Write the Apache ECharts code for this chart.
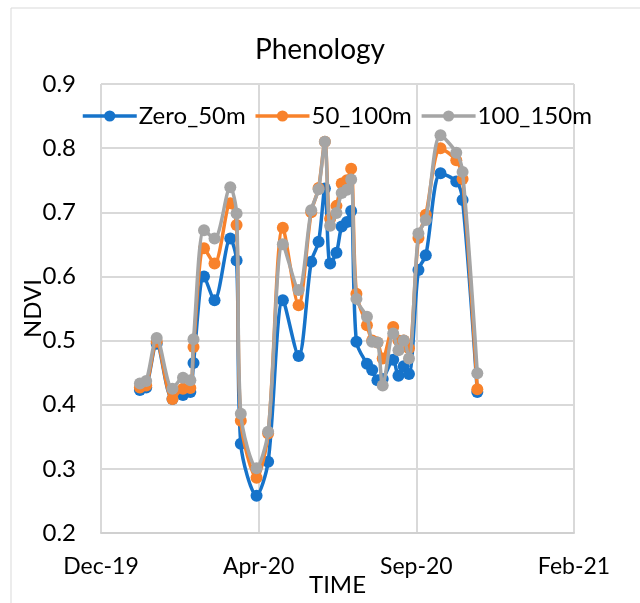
<!DOCTYPE html>
<html>
<head>
<meta charset="utf-8">
<script src="https://cdn.jsdelivr.net/npm/echarts@6/dist/echarts.min.js"></script>
<style>
html,body{margin:0;padding:0;background:#fff;overflow:hidden;}
#chart{width:640px;height:603px;}
</style>
</head>
<body>
<div id="chart"></div>
<script>
// ---- data ----
const dates = [
  '2020-01-07','2020-01-13','2020-01-23','2020-02-07','2020-02-17','2020-02-24','2020-02-27',
  '2020-03-08','2020-03-18','2020-04-02','2020-04-08','2020-04-12','2020-04-27','2020-05-08',
  '2020-05-22','2020-06-06','2020-06-18','2020-06-25','2020-07-01','2020-07-06','2020-07-12',
  '2020-07-17','2020-07-22','2020-07-26','2020-07-31','2020-08-10','2020-08-15','2020-08-20',
  '2020-08-25','2020-09-04','2020-09-09','2020-09-14','2020-09-19','2020-09-28','2020-10-05',
  '2020-10-19','2020-11-03','2020-11-09','2020-11-23'
];
const zero_50m = [
  0.423,0.427,0.495,0.409,0.415,0.420,0.465,
  0.600,0.563,0.659,0.625,0.339,0.258,0.311,
  0.563,0.476,0.623,0.654,0.737,0.620,0.637,
  0.678,0.685,0.702,0.498,0.464,0.454,0.438,
  0.440,0.470,0.445,0.460,0.448,0.610,0.633,
  0.761,0.748,0.719,0.420
];
const m50_100m = [
  0.427,0.430,0.498,0.409,0.425,0.426,0.490,
  0.644,0.620,0.714,0.680,0.375,0.286,0.355,
  0.676,0.555,0.700,0.738,0.810,0.690,0.710,
  0.745,0.750,0.768,0.573,0.524,0.500,0.497,
  0.472,0.521,0.500,0.500,0.488,0.660,0.696,
  0.800,0.781,0.752,0.424
];
const m100_150m = [
  0.433,0.437,0.504,0.425,0.442,0.438,0.502,
  0.672,0.659,0.739,0.698,0.386,0.301,0.358,
  0.650,0.579,0.703,0.736,0.810,0.679,0.699,
  0.730,0.735,0.751,0.565,0.537,0.498,0.497,
  0.430,0.511,0.485,0.500,0.472,0.667,0.688,
  0.820,0.793,0.763,0.449
];
const seriesNames = ['Zero_50m','50_100m','100_150m'];
const seriesColors = ['#1673CA','#F8822B','#A5A5A5'];
// x axis: Excel date serials, Dec-19 .. Feb-21 every 150 days
const xMin = 43800, xMax = 44250, xStep = 150;
const yMin = 0.2, yMax = 0.9, yStep = 0.1;

const MONTHS = ['Jan','Feb','Mar','Apr','May','Jun','Jul','Aug','Sep','Oct','Nov','Dec'];
function toSerial(s){
  const p = s.split('-').map(Number);
  return Date.UTC(p[0], p[1]-1, p[2]) / 86400000 + 25569;
}
function serialLabel(v){
  const d = new Date(Math.round((v - 25569) * 86400000));
  return MONTHS[d.getUTCMonth()] + '-' + String(d.getUTCFullYear() % 100).padStart(2,'0');
}
const xs = dates.map(toSerial);
const allSeries = [zero_50m, m50_100m, m100_150m];

const FONT = 'Lato';
const chart = echarts.init(document.getElementById('chart'), null, {renderer:'canvas', width:640, height:603});
chart.setOption({
  animation:false,
  backgroundColor:'#fff',
  textStyle:{fontFamily:FONT},
  title:{
    text:'Phenology', left:'center', top:31,
    textStyle:{fontFamily:FONT, fontSize:28, fontWeight:'normal', color:'#000'}
  },
  legend:{
    left:76, top:99, itemWidth:54, itemHeight:14, itemGap:8,
    lineStyle:{width:3.5},
    textStyle:{fontFamily:FONT, fontSize:24, color:'#000', padding:[0,0,0,-3]},
    data:seriesNames
  },
  graphic:[{
    type:'rect', shape:{x:11, y:8, width:640, height:620},
    style:{fill:'none', stroke:'#D9D9D9', lineWidth:1}, silent:true
  }],
  grid:{left:101, width:473, top:84, height:449, containLabel:false, outerBoundsMode:'none'},
  xAxis:{
    type:'value', min:xMin, max:xMax, interval:xStep,
    name:'TIME', nameLocation:'middle', nameGap:40, nameMoveOverlap:false,
    nameTextStyle:{fontFamily:FONT, fontSize:24, color:'#000'},
    axisLine:{show:true, lineStyle:{color:'#D0D0D0', width:2}},
    axisTick:{show:false},
    axisLabel:{formatter:serialLabel, fontFamily:FONT, fontSize:23, color:'#000', margin:22},
    splitLine:{show:true, lineStyle:{color:'#D9D9D9', width:2}}
  },
  yAxis:{
    type:'value', min:yMin, max:yMax, interval:yStep,
    name:'NDVI', nameLocation:'middle', nameGap:56, nameMoveOverlap:false,
    nameTextStyle:{fontFamily:FONT, fontSize:24, color:'#000'},
    axisLine:{show:false},
    axisTick:{show:false},
    axisLabel:{formatter:v=>v.toFixed(1), fontFamily:FONT, fontSize:24, color:'#000', margin:25},
    splitLine:{show:true, lineStyle:{color:'#D9D9D9', width:2}}
  },
  series: seriesNames.map((n,i)=>({
    name:n, type:'line', smooth:0.3,
    data: xs.map((x,j)=>[x, allSeries[i][j]]),
    symbol:'circle', symbolSize:12,
    lineStyle:{color:seriesColors[i], width:3.5},
    itemStyle:{color:seriesColors[i]},
    z: 2+i
  }))
});
</script>
</body>
</html>
